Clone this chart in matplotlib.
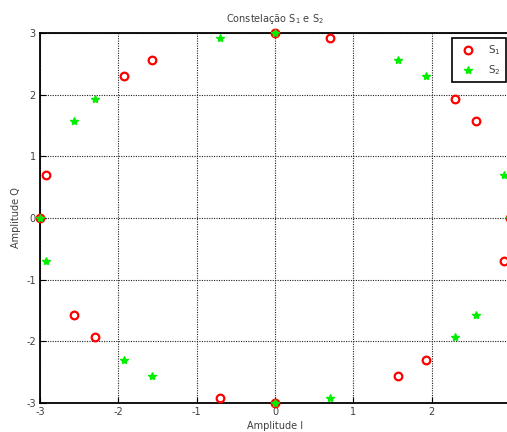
import matplotlib.pyplot as plt

plt.rcParams['axes.unicode_minus'] = False

# Constellation points
s1_i = [0, 0.70, 2.30, 2.56, 3, 2.92, 1.93, 1.57, 0, -0.70, -2.30, -2.56, -3, -2.92, -1.93, -1.57]
s1_q = [3, 2.92, 1.93, 1.57, 0, -0.70, -2.30, -2.56, -3, -2.92, -1.93, -1.57, 0, 0.70, 2.30, 2.56]
s2_i = [0, -0.70, -2.30, -2.56, -3, -2.92, -1.93, -1.57, 0, 0.70, 2.30, 2.56, 3, 2.92, 1.93, 1.57]
s2_q = [3, 2.92, 1.93, 1.57, 0, -0.70, -2.30, -2.56, -3, -2.92, -1.93, -1.57, 0, 0.70, 2.30, 2.56]

x_ticks = [-3, -2, -1, 0, 1, 2]
y_ticks = [-3, -2, -1, 0, 1, 2, 3]

txt_color = '#404040'

fig = plt.figure(figsize=(5.07, 4.32), dpi=100)
fig.patch.set_facecolor('white')
ax = fig.add_axes([40 / 507, 29 / 432, 470 / 507, 370 / 432])

ax.plot(s1_i, s1_q, linestyle='none', marker='o', markersize=5.5, markerfacecolor='none',
        markeredgecolor='red', markeredgewidth=1.6, label='S$_1$', clip_on=False, zorder=3)
ax.plot(s2_i, s2_q, linestyle='none', marker='*', markersize=6, color='#00ee00',
        markeredgecolor='#00ee00', markeredgewidth=1.0, label='S$_2$', clip_on=False, zorder=4)

ax.set_xlim(-3, 3)
ax.set_ylim(-3, 3)
ax.set_xticks(x_ticks)
ax.set_yticks(y_ticks)
ax.tick_params(direction='in', length=4, labelsize=7, colors='black', labelcolor=txt_color, pad=3)
ax.grid(True, color='#202020', linestyle=(0, (1, 1.2)), linewidth=0.8)
for sp in ax.spines.values():
    sp.set_linewidth(1.3)

ax.set_title('Constelação S$_1$ e S$_2$', fontsize=7, color=txt_color, pad=8)
ax.set_xlabel('Amplitude I', fontsize=7, color=txt_color, labelpad=3)
ax.set_ylabel('Amplitude Q', fontsize=7, color=txt_color, labelpad=4)

leg = ax.legend(loc='upper right', bbox_to_anchor=(0.992, 0.986), borderaxespad=0, fontsize=7.5,
                fancybox=False, framealpha=1, edgecolor='black', handlelength=2.0,
                borderpad=0.5, labelspacing=0.6, handletextpad=1.0)
leg.get_frame().set_linewidth(1.2)
for t in leg.get_texts():
    t.set_color(txt_color)

fig.savefig('out.png', dpi=100)
